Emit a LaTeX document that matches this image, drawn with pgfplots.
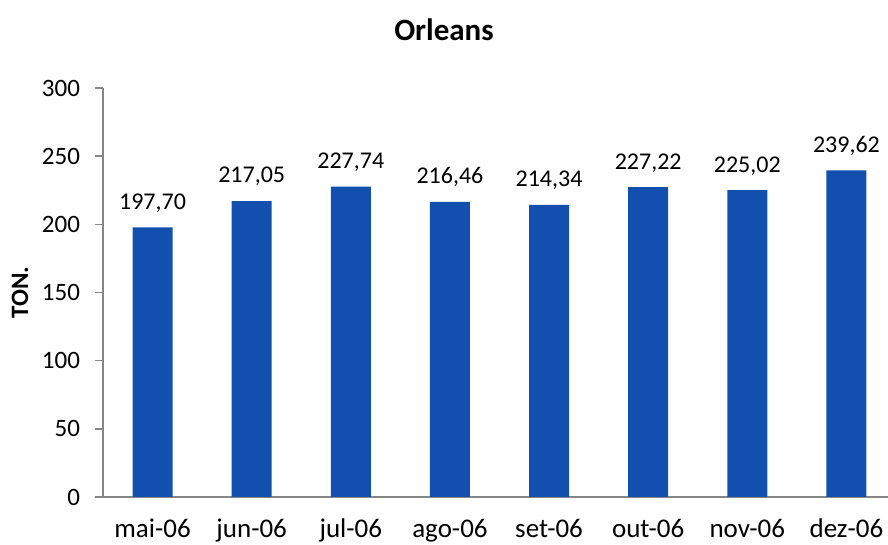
\documentclass[border=0pt]{standalone}
\usepackage{fontspec}
\setmainfont{Carlito}
\usepackage{pgfplots}
\pgfplotsset{compat=1.18}
\usetikzlibrary{calc}
\definecolor{barblue}{HTML}{134FAF}
\definecolor{axgray}{HTML}{868686}
\begin{document}
\begin{tikzpicture}
\begin{axis}[
  name=ax,
  scale only axis,
  width=396.5pt, height=204.5pt,
  ymin=0, ymax=300, ytick={0,50,...,300},
  xmin=-0.5, xmax=7.5,
  xtick={0,...,7},
  xticklabels={mai-06,jun-06,jul-06,ago-06,set-06,out-06,nov-06,dez-06},
  extra x ticks={-0.5,0.5,...,7.5},
  extra x tick labels={},
  extra x tick style={major tick length=4pt, tick style={axgray, line width=0.75pt}},
  axis x line*=bottom, axis y line*=left,
  axis line style={axgray, line width=0.75pt, -},
  x tick style={draw=none},
  y tick style={axgray, line width=0.75pt},
  major tick length=4pt,
  tick align=outside,
  xticklabel style={yshift=-3.5pt, font=\fontsize{13.5}{15}\selectfont},
  yticklabel style={xshift=-4pt, font=\fontsize{12.5}{15}\selectfont},
  /pgf/number format/assume math mode=true,
  ybar, bar width=20pt,
  nodes near coords,
  nodes near coords style={font=\fontsize{12}{15}\selectfont, black, yshift=4pt,
    /pgf/number format/.cd, fixed, fixed zerofill, precision=2, use comma, 1000 sep={}, assume math mode=true},
]
\addplot[fill=barblue, draw=none] coordinates {
(0,197.70) (1,217.05) (2,227.74) (3,216.46) (4,214.34) (5,227.22) (6,225.02) (7,239.62)};
\end{axis}
\node[font=\bfseries\fontsize{15.5}{18}\selectfont] at ($(ax.north west)+(170.5pt,29pt)$) {Orleans};
\node[font=\bfseries\fontsize{12.5}{15}\selectfont, rotate=90] at ($(ax.west)+(-41.5pt,0)$) {TON.};
\pgfresetboundingbox
\path[use as bounding box] ($(ax.south west)+(-51.5pt,-24pt)$) rectangle ($(ax.north east)+(-4pt,44pt)$);
\end{tikzpicture}
\end{document}
